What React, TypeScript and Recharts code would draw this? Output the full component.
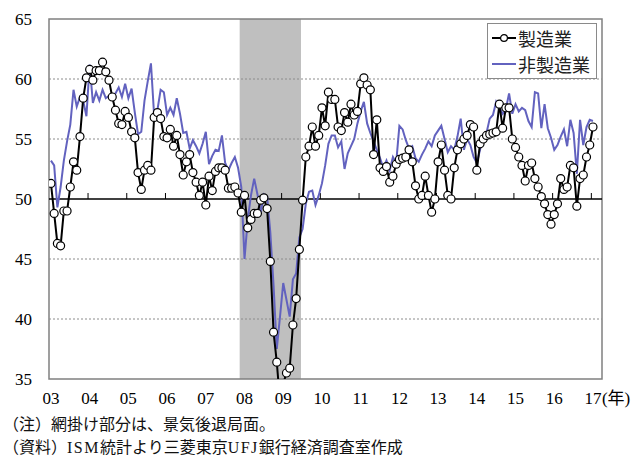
import React from "react";
import {
  LineChart,
  Line,
  XAxis,
  YAxis,
  ReferenceLine,
  ReferenceArea,
  Legend,
} from "recharts";

// ISM indices, monthly, Jan 2003 - Jan 2017
const manufacturing = [
  51.3, 48.8, 46.3, 46.1, 49.0, 49.0, 51.0, 53.1, 52.4, 55.2, 58.4, 60.1,
  60.8, 59.9, 60.7, 60.7, 61.4, 60.6, 59.9, 58.5, 57.4, 56.3, 56.2, 57.3,
  56.8, 55.6, 55.1, 52.2, 50.8, 52.4, 52.8, 52.4, 56.8, 57.2, 56.7, 55.2,
  55.1, 55.8, 54.4, 55.3, 53.7, 52.0, 53.1, 53.7, 52.2, 51.4, 50.3, 51.4,
  49.5, 51.9, 50.7, 52.3, 52.6, 52.6, 52.4, 50.9, 50.9, 51.0, 50.5, 48.9,
  50.3, 47.6, 48.3, 48.8, 48.8, 49.9, 50.1, 49.2, 44.8, 38.9, 36.4, 33.1,
  34.6, 35.5, 35.9, 39.5, 41.7, 45.8, 49.9, 53.5, 54.4, 56.0, 54.4, 55.3,
  57.6, 56.1, 58.9, 58.3, 58.3, 56.0, 55.7, 57.2, 56.4, 57.9, 57.0, 57.3,
  59.6, 60.1, 59.5, 59.1, 53.7, 56.6, 52.6, 52.3, 52.7, 51.4, 51.9, 52.9,
  53.3, 53.4, 53.5, 54.1, 53.1, 51.1, 50.0, 50.3, 51.9, 50.3, 48.9, 50.0,
  53.1, 54.5, 52.4, 50.3, 50.0, 52.6, 54.1, 54.6, 55.0, 55.3, 56.2, 56.0,
  52.4, 54.6, 55.0, 55.3, 55.4, 55.5, 55.6, 57.9, 55.9, 57.6, 57.6, 55.0,
  54.3, 53.5, 52.8, 51.5, 52.8, 53.0, 51.7, 51.0, 50.2, 49.6, 48.7, 47.9,
  48.7, 49.6, 51.7, 50.8, 51.0, 52.8, 52.6, 49.4, 51.7, 52.0, 53.5, 54.5,
  56.0,
];

const nonManufacturing = [
  53.2, 52.8, 49.3, 51.0, 53.2, 54.8, 56.2, 59.1, 57.7, 58.5, 58.2, 56.9,
  61.2, 58.0, 58.9, 58.2, 59.1, 58.4, 58.6, 58.4, 58.8, 59.3, 58.5, 59.6,
  58.4, 59.2, 57.2, 55.4, 55.6, 58.2, 59.8, 61.3, 56.9, 57.4, 59.1, 58.9,
  57.0, 57.6, 57.0, 58.4, 57.1, 55.5, 55.6, 54.2, 54.9, 54.4, 53.8, 54.6,
  55.6, 52.9, 53.6, 54.1, 54.0, 55.3, 53.0, 52.4, 53.0, 53.5, 52.6, 51.0,
  45.0, 48.3, 50.3, 51.7, 50.4, 48.8, 50.4, 50.2, 47.2, 42.8, 37.5, 40.2,
  43.0, 41.6, 40.2, 43.3, 43.8, 46.8, 47.5, 49.6, 50.6, 50.7, 49.5, 50.3,
  51.3, 52.8, 54.6, 55.3, 55.3, 54.3, 54.8, 52.5, 53.8, 54.4, 55.0, 56.3,
  57.3, 58.1, 56.3, 55.5, 54.8, 54.1, 53.4, 52.6, 53.2, 52.4, 53.5, 53.0,
  56.1, 55.8, 54.9, 54.2, 54.4, 53.4, 53.1, 53.7, 54.2, 54.8, 54.4, 55.3,
  55.7, 56.1, 55.0, 53.9, 54.4, 54.1, 55.2, 56.7, 54.1, 55.0, 54.5, 53.5,
  53.0, 54.1, 55.3, 55.5, 56.7, 57.0, 58.1, 57.6, 57.1, 57.5, 58.8, 57.1,
  57.9, 57.3, 57.6, 57.4, 56.5, 56.0, 58.9, 58.8, 55.9, 57.9, 55.9, 55.1,
  54.1, 54.5, 55.2, 55.8, 54.4, 56.6, 55.5, 52.1, 56.6, 54.5, 56.0, 56.6,
  56.5,
];

const yearLabels = ["03", "04", "05", "06", "07", "08", "09", "10", "11", "12", "13", "14", "15", "16", "17"];
const yTicks = [35, 40, 45, 50, 55, 60, 65];
const gridLevels = [40, 45, 55, 60];
// recession: Dec 2007 - Jun 2009 (month index from Jan 2003)
const recessionMonths = [59, 77];

const data = manufacturing.map((v, i) => ({
  i,
  mfg: v,
  non: nonManufacturing[i],
}));

const yearTicks = yearLabels.map((_, k) => k * 12);
const boundaries = yearTicks.slice(1).map((t) => t - 0.5);
const X_DOMAIN: [number, number] = [-0.6, 170.8];

const SERIF = "'Liberation Serif', 'Noto Sans CJK JP', serif";
const CJK = "'Liberation Serif', 'Noto Sans CJK JP', sans-serif";
const BLUE = "#6262bf";

function YearTick(props: any) {
  const { x, y, payload } = props;
  const k = Math.round(payload.value / 12);
  const last = k === yearLabels.length - 1;
  return (
    <g>
      <text x={x} y={y} dy="0.71em" textAnchor="middle" fontSize={17} fill="#000" fontFamily={SERIF}>
        {yearLabels[k]}
      </text>
      {last && (
        <text x={x + 9} y={y} dy="0.71em" textAnchor="start" fontSize={17} fill="#000" fontFamily={SERIF}>
          (年)
        </text>
      )}
    </g>
  );
}

function LegendBox() {
  const row: React.CSSProperties = {
    display: "flex",
    alignItems: "center",
    height: 26,
    fontSize: 18,
    fontFamily: CJK,
    color: "#222",
  };
  return (
    <div
      style={{
        border: "1px solid #8a8a8a",
        background: "#fff",
        padding: "1px 6px 1px 4px",
        width: 98,
      }}
    >
      <div style={row}>
        <svg width={24} height={12} style={{ marginRight: 2 }}>
          <line x1={0} y1={6} x2={24} y2={6} stroke="#000" strokeWidth={2} />
          <circle cx={12} cy={6} r={3.4} fill="#fff" stroke="#000" strokeWidth={1.2} />
        </svg>
        製造業
      </div>
      <div style={row}>
        <svg width={24} height={12} style={{ marginRight: 2 }}>
          <line x1={0} y1={6} x2={24} y2={6} stroke={BLUE} strokeWidth={2} />
        </svg>
        非製造業
      </div>
    </div>
  );
}

export default function App() {
  return (
    <div
      style={{
        position: "absolute",
        left: 0,
        top: 0,
        width: 635,
        height: 457,
        background: "#fff",
        fontFamily: SERIF,
      }}
    >
      <LineChart
        width={635}
        height={414}
        data={data}
        margin={{ top: 19, right: 33, bottom: 0, left: 0 }}
        style={{ fontFamily: SERIF }}
      >
        <XAxis
          type="number"
          dataKey="i"
          domain={X_DOMAIN}
          allowDataOverflow
          ticks={yearTicks}
          interval={0}
          tick={<YearTick />}
          tickLine={false}
          axisLine={false}
          tickMargin={7}
          height={35}
        />
        <YAxis
          domain={[35, 65]}
          allowDataOverflow
          ticks={yTicks}
          interval={0}
          width={49}
          tickLine={false}
          axisLine={false}
          tickMargin={11}
          tick={{ fontSize: 17, fill: "#000", fontFamily: SERIF }}
        />
        {gridLevels.map((v) => (
          <ReferenceLine key={v} y={v} stroke="#8c8c8c" strokeDasharray="2 2" />
        ))}
        <ReferenceArea
          x1={recessionMonths[0] - 0.5}
          x2={recessionMonths[1] + 0.5}
          y1={35}
          y2={65}
          fill="#bfbfbf"
          fillOpacity={1}
          stroke="none"
        />
        <ReferenceLine y={50} stroke="#000" strokeWidth={1.3} />
        {boundaries.map((b) => (
          <ReferenceLine
            key={b}
            segment={[
              { x: b, y: 50 },
              { x: b, y: 50.5 },
            ]}
            stroke="#000"
          />
        ))}
        <Line
          dataKey="non"
          name="非製造業"
          stroke={BLUE}
          strokeWidth={2}
          dot={false}
          isAnimationActive={false}
        />
        <Line
          dataKey="mfg"
          name="製造業"
          stroke="#000"
          strokeWidth={2}
          dot={{ r: 4, fill: "#fff", stroke: "#000", strokeWidth: 1.2 }}
          isAnimationActive={false}
        />
        <ReferenceArea
          x1={X_DOMAIN[0]}
          x2={X_DOMAIN[1]}
          y1={35}
          y2={65}
          fill="none"
          stroke="#808080"
          strokeWidth={1.5}
        />
        <Legend
          layout="horizontal"
          verticalAlign="middle"
          align="center"
          content={() => <LegendBox />}
          wrapperStyle={{ left: 487, top: 23, width: 110 }}
        />
      </LineChart>
      <div
        style={{
          position: "absolute",
          left: 3,
          top: 413,
          fontSize: 16,
          lineHeight: "23px",
          fontFamily: CJK,
          color: "#111",
          whiteSpace: "nowrap",
        }}
      >
        <div>（注）網掛け部分は、景気後退局面。</div>
        <div>
          （資料）<span style={{ letterSpacing: 1.5 }}>ISM</span>統計より三菱東京
          <span style={{ letterSpacing: 1.5 }}>UFJ</span>銀行経済調査室作成
        </div>
      </div>
    </div>
  );
}
